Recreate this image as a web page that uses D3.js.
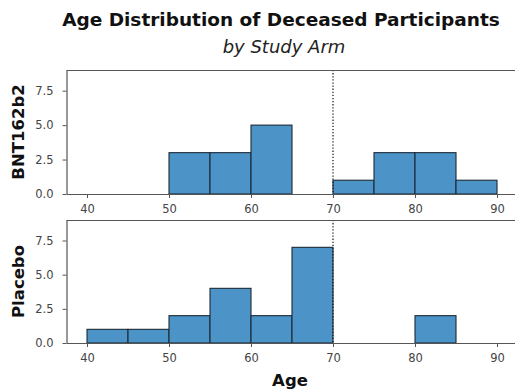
<!DOCTYPE html>
<meta charset="utf-8">
<style>

html, body {
  margin: 0;
  background: #fff;
  font-family: "DejaVu Sans", sans-serif;
}

svg {
  display: block;
}

.bar {
  fill: #4c93c8;
  stroke: #1c2a36;
  stroke-width: 1.1px;
}

.axis path, .axis line {
  stroke: #555;
}

.axis text {
  fill: #444;
  font-size: 11.5px;
  font-family: "DejaVu Sans", sans-serif;
}

</style>
<svg class="chart"></svg>
<script src="https://d3js.org/d3.v7.min.js"></script>
<script>

var width = 515;
var height = 391;

// bin edges (5-year bins) and counts per arm
var binStarts = [40, 45, 50, 55, 60, 65, 70, 75, 80, 85];
var bntCounts = [0, 0, 3, 3, 5, 0, 1, 3, 3, 1];
var placeboCounts = [1, 1, 2, 4, 2, 7, 0, 0, 2, 0];
var armNames = ['BNT162b2', 'Placebo'];
var xTicks = [40, 50, 60, 70, 80, 90];
var yTicks = [0, 2.5, 5, 7.5];
var cutoff = 70;
var binWidth = 5;

var svg = d3.select('svg.chart')
  .attr('width', width)
  .attr('height', height);

svg.append('text')
  .attr('x', 281)
  .attr('y', 26)
  .attr('text-anchor', 'middle')
  .attr('font-size', '18.5px')
  .attr('font-weight', 'bold')
  .attr('fill', '#111')
  .text('Age Distribution of Deceased Participants');

svg.append('text')
  .attr('x', 284)
  .attr('y', 53)
  .attr('text-anchor', 'middle')
  .attr('font-size', '18px')
  .attr('font-style', 'italic')
  .attr('fill', '#222')
  .text('by Study Arm');

var x = d3.scaleLinear()
  .domain([37.5, 92.5])
  .range([66.5, 517.5]);

var panels = [
  {name: armNames[0], counts: bntCounts, top: 70, bottom: 194},
  {name: armNames[1], counts: placeboCounts, top: 220, bottom: 343}
];

panels.forEach(function (p) {
  var y = d3.scaleLinear()
    .domain([0, 9])
    .range([p.bottom, p.top]);

  var g = svg.append('g');

  var bins = binStarts.map(function (b, i) { return {x0: b, x1: b + binWidth, n: p.counts[i]}; })
    .filter(function (d) { return d.n > 0; });

  g.append('g').selectAll('rect')
    .data(bins)
    .enter().append('rect')
    .attr('class', 'bar')
    .attr('x', function (d) { return x(d.x0); })
    .attr('width', function (d) { return x(d.x1) - x(d.x0); })
    .attr('y', function (d) { return y(d.n); })
    .attr('height', function (d) { return y(0) - y(d.n); });

  // cutoff line
  g.append('line')
    .attr('x1', x(cutoff)).attr('x2', x(cutoff))
    .attr('y1', p.top).attr('y2', p.bottom)
    .attr('stroke', '#222')
    .attr('stroke-width', 1.3)
    .attr('stroke-dasharray', '1.3,1.8');

  // spines
  g.append('line')
    .attr('x1', x.range()[0]).attr('x2', x.range()[1])
    .attr('y1', p.top + 0.5).attr('y2', p.top + 0.5)
    .attr('stroke', '#555').attr('stroke-width', 1.2);

  g.append('g')
    .attr('class', 'axis')
    .attr('transform', 'translate(0,' + p.bottom + ')')
    .call(d3.axisBottom(x).tickValues(xTicks).tickSize(4).tickPadding(7).tickSizeOuter(0));

  g.append('g')
    .attr('class', 'axis')
    .attr('transform', 'translate(' + x.range()[0] + ',0)')
    .call(d3.axisLeft(y).tickValues(yTicks).tickFormat(d3.format('.1f')).tickSize(4).tickPadding(9).tickSizeOuter(0));

  g.selectAll('.axis .domain').attr('stroke-width', 1.2);

  g.append('text')
    .attr('transform', 'translate(24,' + (p.top + p.bottom) / 2 + ') rotate(-90)')
    .attr('text-anchor', 'middle')
    .attr('font-size', '16.5px')
    .attr('font-weight', 'bold')
    .attr('fill', '#111')
    .text(p.name);
});

svg.append('text')
  .attr('x', 290)
  .attr('y', 386)
  .attr('text-anchor', 'middle')
  .attr('font-size', '16.5px')
  .attr('font-weight', 'bold')
  .attr('fill', '#111')
  .text('Age');

</script>
